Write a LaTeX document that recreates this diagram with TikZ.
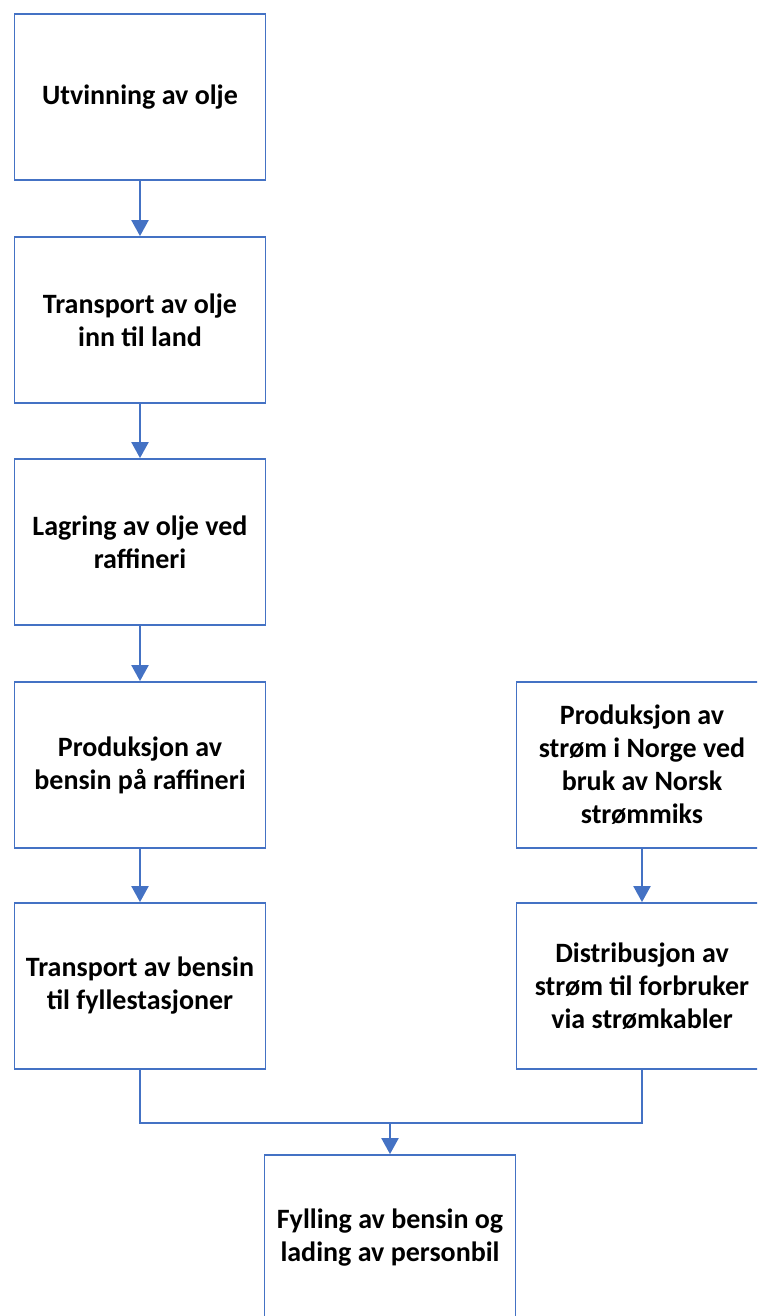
\documentclass[tikz,border=0pt]{standalone}
\usepackage{fontspec}
\setmainfont{Carlito}
\usepackage{tikz}
\usetikzlibrary{arrows.meta}

\definecolor{boxblue}{HTML}{4472C4}

\begin{document}
\begin{tikzpicture}[x=0.5pt, y=-0.5pt, >={Triangle[width=8.5pt,length=8pt]},
    link/.style={draw=boxblue, line width=1.1pt},
    flowbox/.style={draw=boxblue, line width=0.9pt, rectangle, minimum width=125.5pt,
        minimum height=83pt, align=center, text=black, font=\fontsize{14}{16.5}\selectfont\bfseries}]
    \useasboundingbox (0,0) rectangle (757,1316);
    \clip (0,0) rectangle (757,1316);

    \node[flowbox] at (140, 97) (b1)  {Utvinning av olje};
    \node[flowbox] at (140, 320) (b2) {Transport av olje\\inn til land};
    \node[flowbox] at (140, 542) (b3) {Lagring av olje ved\\raffineri};
    \node[flowbox] at (140, 765) (b4) {Produksjon av\\bensin på raffineri};
    \node[flowbox] at (140, 986) (b5) {Transport av bensin\\til fyllestasjoner};

    \node[flowbox] at (642, 765) (r1) {Produksjon av\\strøm i Norge ved\\bruk av Norsk\\strømmiks};
    \node[flowbox] at (642, 986) (r2) {Distribusjon av\\strøm til forbruker\\via strømkabler};

    \node[flowbox] at (390, 1238) (b6) {Fylling av bensin og\\lading av personbil};

    \coordinate (m) at (390, 1123);

    \draw[link, ->] (b1) -- (b2);
    \draw[link, ->] (b2) -- (b3);
    \draw[link, ->] (b3) -- (b4);
    \draw[link, ->] (b4) -- (b5);
    \draw[link, ->] (r1) -- (r2);

    \draw[link] (b5.south) |- (m) -| (r2.south);
    \draw[link, ->] (m) -- (b6);

  \end{tikzpicture}
\end{document}
